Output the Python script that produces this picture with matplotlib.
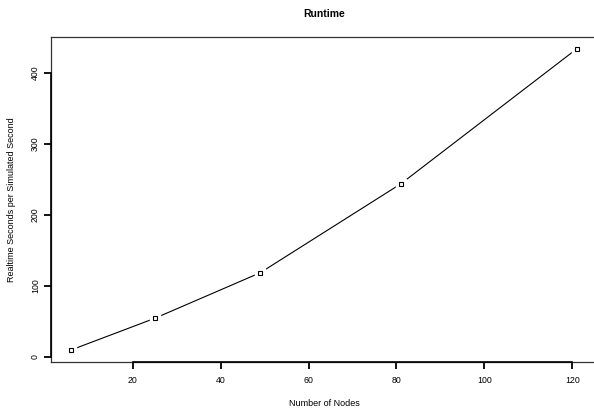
import matplotlib
matplotlib.use('Agg')
import matplotlib.pyplot as plt

plt.rcParams['font.family'] = ['Liberation Sans', 'DejaVu Sans']

# data
nodes = [6, 25, 49, 81, 121]
runtime = [10, 54.5, 118.7, 244, 434]
x_ticks = [20, 40, 60, 80, 100, 120]
y_ticks = [0, 100, 200, 300, 400]

W, H = 594, 408
fig = plt.figure(figsize=(W / 100, H / 100), dpi=100)
# R style box, right edge lies just past the image
ax = fig.add_axes([50.9 / W, (H - 362) / H, (597 - 50.9) / W, (362 - 36.8) / H])

# R type="b": line with gaps around the points
ax.plot(nodes, runtime, color='black', lw=0.8, zorder=2)
ax.plot(nodes, runtime, ls='none', marker='s', ms=6.5, mfc='white', mec='white', zorder=3)
ax.plot(nodes, runtime, ls='none', marker='s', ms=3.3, mfc='white', mec='black', mew=0.8, zorder=4)

# 4% padding like R
xr = max(nodes) - min(nodes)
yr = max(runtime) - min(runtime)
ax.set_xlim(min(nodes) - 0.04 * xr, max(nodes) + 0.04 * xr)
ax.set_ylim(min(runtime) - 0.04 * yr, max(runtime) + 0.04 * yr)

for s in ax.spines.values():
    s.set_color('#333333')
    s.set_linewidth(0.9)

# axis lines between first and last ticks, drawn over the box
ax.plot([x_ticks[0], x_ticks[-1]], [0, 0], color='black', lw=1.2,
        transform=ax.get_xaxis_transform(), clip_on=False, zorder=5)
ax.plot([0, 0], [y_ticks[0], y_ticks[-1]], color='black', lw=1.2,
        transform=ax.get_yaxis_transform(), clip_on=False, zorder=5)

ax.set_xticks(x_ticks)
ax.set_yticks(y_ticks)
ax.tick_params(direction='out', length=5, width=1.3, color='black', labelsize=6.3)
ax.tick_params(axis='x', pad=5)
ax.tick_params(axis='y', labelrotation=90, pad=3)
for lab in ax.get_yticklabels():
    lab.set_va('center')

ax.set_xlabel('Number of Nodes', fontsize=6.5, labelpad=10.5)
ax.set_ylabel('Realtime Seconds per Simulated Second', fontsize=6.5, labelpad=10.5)
ax.set_title('Runtime', fontsize=7.5, fontweight='bold', pad=14)

fig.savefig('out.png', dpi=100)
